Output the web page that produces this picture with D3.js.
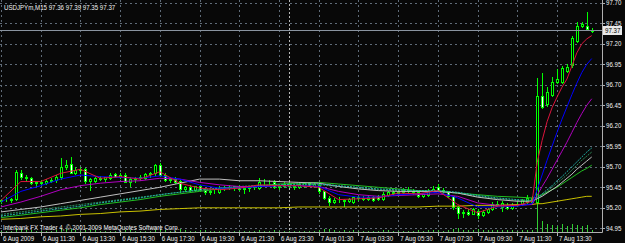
<!DOCTYPE html>
<html>
<head>
<meta charset="utf-8">
<script src="https://cdn.jsdelivr.net/npm/d3@7"></script>
<style>
html, body { margin: 0; padding: 0; background: #000; }
svg { display: block; }
text { font-family: "Liberation Sans", Arial, sans-serif; font-size: 7.5px; fill: #f0f0f0; }
</style>
</head>
<body>
<svg id="chart" width="625" height="243"></svg>
<script>
const SYMBOL = "USDJPYm,M15";
const COPYRIGHT = "Interbank FX Trader 4, \u00a9 2001-2009 MetaQuotes Software Corp.";

// M15 bars, first bar = 6 Aug 2009 09:30
const open = [95.28,95.30,95.29,95.31,95.62,95.57,95.56,95.50,95.51,95.50,95.53,95.54,95.57,95.70,95.74,95.63,95.66,95.67,95.53,95.53,
  95.56,95.55,95.56,95.61,95.58,95.60,95.52,95.55,95.56,95.56,95.61,95.62,95.72,95.60,95.54,95.55,95.53,95.43,95.45,95.42,
  95.46,95.42,95.39,95.40,95.39,95.44,95.45,95.44,95.46,95.43,95.44,95.45,95.44,95.52,95.51,95.52,95.45,95.46,95.49,95.47,
  95.45,95.46,95.50,95.47,95.48,95.40,95.32,95.27,95.30,95.29,95.28,95.27,95.33,95.32,95.31,95.33,95.34,95.31,95.36,95.39,
  95.38,95.39,95.42,95.41,95.39,95.34,95.36,95.41,95.45,95.42,95.40,95.34,95.21,95.14,95.15,95.13,95.16,95.11,95.15,95.18,
  95.25,95.21,95.24,95.20,95.24,95.25,95.27,95.32,95.27,96.56,96.46,96.58,96.74,96.74,96.87,96.94,97.24,97.42,97.42,97.36];
const high = [95.31,95.33,95.32,95.66,95.66,95.60,95.58,95.53,95.54,95.55,95.56,95.60,95.81,95.78,95.82,95.70,95.70,95.69,95.56,95.58,
  95.59,95.58,95.62,95.63,95.62,95.62,95.57,95.58,95.60,95.62,95.64,95.74,95.75,95.62,95.57,95.57,95.55,95.47,95.48,95.47,
  95.48,95.44,95.42,95.43,95.46,95.47,95.48,95.47,95.48,95.46,95.47,95.48,95.56,95.55,95.54,95.54,95.48,95.51,95.51,95.49,
  95.51,95.52,95.52,95.51,95.50,95.41,95.34,95.32,95.33,95.31,95.32,95.35,95.35,95.34,95.35,95.34,95.36,95.39,95.41,95.41,
  95.41,95.44,95.45,95.43,95.41,95.38,95.43,95.46,95.49,95.44,95.41,95.35,95.22,95.17,95.18,95.20,95.18,95.17,95.20,95.27,
  95.28,95.28,95.26,95.26,95.27,95.31,95.36,95.34,96.78,96.84,96.67,96.79,96.89,96.93,96.95,97.29,97.46,97.47,97.59,97.39];
const low = [95.26,95.28,95.27,95.29,95.55,95.53,95.49,95.47,95.48,95.49,95.51,95.52,95.55,95.67,95.62,95.61,95.63,95.50,95.42,95.51,
  95.54,95.53,95.55,95.57,95.56,95.51,95.47,95.52,95.54,95.55,95.58,95.60,95.59,95.53,95.51,95.50,95.39,95.40,95.40,95.41,
  95.41,95.37,95.37,95.38,95.38,95.42,95.43,95.42,95.42,95.38,95.41,95.43,95.43,95.49,95.48,95.44,95.43,95.45,95.45,95.43,
  95.44,95.45,95.46,95.45,95.38,95.31,95.24,95.26,95.27,95.22,95.27,95.26,95.30,95.29,95.30,95.28,95.30,95.30,95.35,95.36,
  95.36,95.38,95.39,95.37,95.33,95.33,95.35,95.40,95.41,95.38,95.33,95.19,95.07,95.09,95.11,95.12,95.07,95.10,95.14,95.17,
  95.22,95.16,95.18,95.19,95.22,95.23,95.26,95.25,95.25,96.42,96.44,96.56,96.72,96.72,96.86,96.92,97.22,97.40,97.38,97.35];
const close = [95.30,95.29,95.31,95.64,95.57,95.56,95.50,95.51,95.50,95.53,95.54,95.58,95.70,95.72,95.63,95.66,95.67,95.53,95.55,95.56,
  95.55,95.57,95.60,95.58,95.60,95.52,95.55,95.56,95.57,95.61,95.62,95.72,95.60,95.54,95.55,95.52,95.43,95.45,95.42,95.46,
  95.42,95.39,95.40,95.41,95.44,95.45,95.44,95.46,95.43,95.44,95.45,95.46,95.52,95.51,95.52,95.45,95.46,95.49,95.47,95.45,
  95.49,95.50,95.47,95.49,95.40,95.32,95.27,95.30,95.29,95.28,95.31,95.33,95.32,95.31,95.33,95.30,95.31,95.37,95.39,95.38,
  95.39,95.42,95.41,95.39,95.34,95.37,95.41,95.43,95.42,95.40,95.34,95.21,95.14,95.15,95.13,95.18,95.11,95.15,95.18,95.25,
  95.24,95.26,95.20,95.24,95.25,95.29,95.32,95.27,96.56,96.43,96.61,96.74,96.77,96.91,96.92,97.27,97.42,97.44,97.38,97.37];
const volume = [120,110,100,420,260,180,200,150,130,140,150,180,380,260,280,170,150,240,220,160,
  130,120,150,140,120,160,180,120,110,150,130,240,300,200,150,140,320,180,150,140,
  160,170,120,110,150,120,100,110,130,140,120,110,230,150,120,180,130,120,100,90,
  110,130,110,120,220,300,320,200,150,170,140,160,110,100,120,130,150,170,160,120,
  110,140,120,110,180,130,170,160,200,150,180,340,380,220,180,160,260,180,170,240,
  160,220,180,170,150,190,230,240,2700,1100,850,720,640,760,600,820,720,650,700,160];

// moving averages, read at these bar indexes
const maIdx = [0,4,8,12,16,20,24,28,32,36,40,44,48,52,56,60,64,68,72,76,80,84,88,92,96,100,104,107,108,109,110,111,112,113,114,115,116,117,118,119];
const maCrimson = [95.29,95.52,95.52,95.62,95.67,95.56,95.58,95.55,95.64,95.50,95.44,95.42,95.44,95.48,95.47,95.47,95.45,95.30,95.31,95.32,95.38,95.37,95.41,95.24,95.14,95.22,95.23,95.28,
  95.75,96.02,96.25,96.42,96.55,96.67,96.77,96.93,97.09,97.20,97.26,97.30];
const maBlue = [95.27,95.40,95.47,95.55,95.60,95.58,95.57,95.56,95.59,95.55,95.48,95.44,95.44,95.46,95.47,95.47,95.46,95.36,95.33,95.33,95.36,95.37,95.39,95.32,95.21,95.21,95.22,95.25,
  95.42,95.60,95.78,95.95,96.12,96.28,96.43,96.58,96.72,96.85,96.95,97.02];
const maMagenta = [95.21,95.27,95.34,95.42,95.47,95.50,95.52,95.53,95.56,95.55,95.51,95.48,95.46,95.46,95.47,95.47,95.46,95.40,95.36,95.34,95.35,95.36,95.37,95.34,95.26,95.23,95.23,95.24,
  95.35,95.46,95.56,95.67,95.78,95.89,96.00,96.12,96.24,96.35,96.45,96.53];
const maTeal = [95.10,95.13,95.16,95.19,95.22,95.26,95.29,95.32,95.36,95.39,95.42,95.44,95.46,95.47,95.48,95.49,95.49,95.47,95.45,95.43,95.42,95.41,95.41,95.39,95.35,95.32,95.30,95.29,
  95.32,95.37,95.42,95.47,95.53,95.58,95.64,95.70,95.76,95.82,95.88,95.93];
const maSeaGreen = [95.12,95.15,95.18,95.21,95.24,95.27,95.30,95.33,95.36,95.39,95.41,95.43,95.45,95.46,95.47,95.48,95.48,95.46,95.44,95.42,95.41,95.40,95.40,95.38,95.34,95.31,95.29,95.28,
  95.31,95.35,95.40,95.45,95.50,95.55,95.60,95.66,95.72,95.78,95.83,95.88];
const maSilver = [95.15,95.18,95.21,95.25,95.29,95.33,95.37,95.41,95.45,95.50,95.55,95.55,95.53,95.53,95.52,95.51,95.50,95.46,95.43,95.41,95.40,95.40,95.40,95.38,95.33,95.30,95.28,95.28,
  95.31,95.34,95.38,95.42,95.46,95.51,95.56,95.61,95.67,95.72,95.77,95.82];
const maGreen = [95.08,95.11,95.14,95.17,95.20,95.24,95.27,95.30,95.34,95.37,95.40,95.43,95.45,95.47,95.49,95.50,95.51,95.49,95.47,95.45,95.43,95.41,95.40,95.38,95.36,95.34,95.33,95.32,
  95.33,95.36,95.39,95.42,95.45,95.49,95.53,95.57,95.61,95.65,95.68,95.72];
const maYellow = [95.06,95.07,95.09,95.10,95.12,95.13,95.15,95.16,95.18,95.19,95.20,95.20,95.20,95.20,95.20,95.21,95.21,95.21,95.21,95.21,95.21,95.21,95.22,95.22,95.23,95.23,95.24,95.24,
  95.25,95.25,95.26,95.27,95.28,95.29,95.30,95.31,95.32,95.33,95.34,95.34];

const priceTicks = [97.70,97.45,97.20,96.95,96.70,96.45,96.20,95.95,95.70,95.45,95.20,94.95];
const timeTickIdx = [0,8,16,24,32,40,48,56,64,72,80,88,96,104,112];
const timeLabels = ["6 Aug 2009","6 Aug 11:30","6 Aug 13:30","6 Aug 15:30","6 Aug 17:30","6 Aug 19:30","6 Aug 21:30","6 Aug 23:30",
  "7 Aug 01:30","7 Aug 03:30","7 Aug 05:30","7 Aug 07:30","7 Aug 09:30","7 Aug 11:30","7 Aug 13:30"];
const daySeparatorIdx = 58; // 7 Aug 00:00

const W = 625, H = 243;
const right = 602, bottom = 232;
const NARROW = 0.82; // terminal font is narrower than Liberation Sans

const svg = d3.select("#chart");
const x = d3.scaleLinear().domain([0, 112]).range([1, 557]);
const y = d3.scaleLinear().domain([94.95, 97.70]).range([228.3, 2.8]);
const vol = d3.scaleLinear().domain([0, d3.max(volume)]).range([0, 27]);
const px = v => Math.round(v) + 0.5;   // crisp 1px lines
const at = (tx, ty) => `translate(${tx},${ty}) scale(${NARROW},1)`;

svg.append("rect").attr("width", W).attr("height", H).attr("fill", "#080808");

// grid
const grid = svg.append("g").attr("stroke", "#5f6b78").attr("stroke-dasharray", "2,3").attr("shape-rendering", "crispEdges");
grid.selectAll("line.h").data(priceTicks).enter().append("line")
  .attr("x1", 0).attr("x2", right).attr("y1", d => px(y(d))).attr("y2", d => px(y(d)));
grid.selectAll("line.v").data(timeTickIdx).enter().append("line")
  .attr("y1", 0).attr("y2", bottom).attr("x1", d => px(x(d))).attr("x2", d => px(x(d)));
svg.append("line").attr("x1", px(x(daySeparatorIdx))).attr("x2", px(x(daySeparatorIdx)))
  .attr("y1", 0).attr("y2", bottom).attr("stroke", "#b8b8b8").attr("stroke-dasharray", "2,2")
  .attr("shape-rendering", "crispEdges");

const idx = d3.range(open.length);

// volumes
svg.append("g").selectAll("line").data(idx).enter().append("line")
  .attr("x1", i => px(x(i))).attr("x2", i => px(x(i)))
  .attr("y1", bottom).attr("y2", i => bottom - vol(volume[i]))
  .attr("stroke", "#32cd32").attr("shape-rendering", "crispEdges");

// candles
const candles = svg.append("g").attr("shape-rendering", "crispEdges");
candles.selectAll("line").data(idx).enter().append("line")
  .attr("x1", i => px(x(i))).attr("x2", i => px(x(i)))
  .attr("y1", i => Math.round(y(high[i]))).attr("y2", i => Math.round(y(low[i])) + 1)
  .attr("stroke", "#00ff00");
candles.selectAll("rect").data(idx).enter().append("rect")
  .attr("x", i => Math.round(x(i)) - 0.5)
  .attr("width", 2)
  .attr("y", i => Math.round(y(Math.max(open[i], close[i]))) + 0.5)
  .attr("height", i => Math.max(0, Math.round(y(Math.min(open[i], close[i]))) - Math.round(y(Math.max(open[i], close[i])))))
  .attr("fill", i => close[i] < open[i] ? "#fff" : "#000")
  .attr("stroke", "#00ff00");

// moving averages
const maLines = [
  { v: maYellow, color: "#c8c000" },
  { v: maGreen, color: "#22c022" },
  { v: maSeaGreen, color: "#2e8b57", dash: "2,1" },
  { v: maSilver, color: "#c0c0c0" },
  { v: maTeal, color: "#20b2aa", dash: "2,1" },
  { v: maMagenta, color: "#b000c0" },
  { v: maBlue, color: "#0000ff" },
  { v: maCrimson, color: "#dc143c" }
];
const line = d3.line().x(d => x(d[0])).y(d => y(d[1]));
svg.append("g").selectAll("path").data(maLines).enter().append("path")
  .attr("d", m => line(maIdx.map((k, j) => [k, m.v[j]])))
  .attr("fill", "none").attr("stroke", m => m.color).attr("stroke-width", 1)
  .attr("stroke-dasharray", m => m.dash || null);

// frame
svg.append("path").attr("d", `M${right + 0.5},0V${bottom + 0.5}H0`).attr("fill", "none").attr("stroke", "#b0b0b0");

// bid line
const last = open.length - 1;
svg.append("line").attr("x1", 0).attr("x2", right).attr("y1", px(y(close[last]))).attr("y2", px(y(close[last])))
  .attr("stroke", "#8a94a0").attr("shape-rendering", "crispEdges");

// price axis
const pAxis = svg.append("g");
pAxis.selectAll("line").data(priceTicks).enter().append("line")
  .attr("x1", right).attr("x2", right + 3).attr("y1", d => px(y(d))).attr("y2", d => px(y(d)))
  .attr("stroke", "#b0b0b0").attr("shape-rendering", "crispEdges");
pAxis.selectAll("text").data(priceTicks).enter().append("text")
  .attr("transform", d => at(606, y(d) + 2.6)).text(d => d.toFixed(2));
const bidY = Math.round(y(close[last]));
svg.append("rect").attr("x", 603).attr("y", bidY - 4).attr("width", 19).attr("height", 9).attr("fill", "#e8e8e8");
svg.append("text").attr("transform", at(605, bidY + 3)).style("fill", "#000").text(close[last].toFixed(2));

// time axis
const tAxis = svg.append("g");
tAxis.selectAll("line").data(timeTickIdx).enter().append("line")
  .attr("x1", d => px(x(d))).attr("x2", d => px(x(d))).attr("y1", bottom).attr("y2", bottom + 4)
  .attr("stroke", "#b0b0b0").attr("shape-rendering", "crispEdges");
tAxis.selectAll("text").data(timeTickIdx).enter().append("text")
  .attr("transform", d => at(x(d) + 2, 241)).text((d, i) => timeLabels[i]);

// header and copyright
svg.append("text").attr("transform", at(4, 9.5))
  .text(`${SYMBOL}  ${[open[last], high[last], low[last], close[last]].map(v => v.toFixed(2)).join(" ")}`);
svg.append("text").attr("transform", at(3, 230)).text(COPYRIGHT);
</script>
</body>
</html>
